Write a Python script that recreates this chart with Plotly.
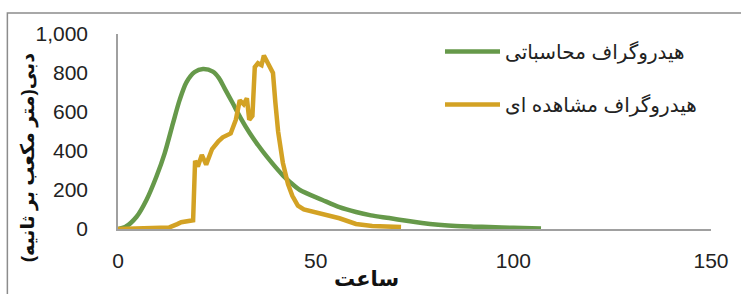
import plotly.graph_objects as go

# Computed hydrograph (green)
calc_t = [0, 1.8, 4.7, 7.2, 9.7, 11.8, 13.9, 15.6, 17.3, 19.4, 21.5, 24, 25.5, 27, 29, 31, 33.3, 35.5,
          37.6, 41.7, 43.4, 46, 51.7, 56, 60.2, 64, 68.6, 73, 76.9, 81, 85.5, 90, 93.8, 100, 107]
calc_q = [0, 10, 63, 149, 268, 388, 542, 662, 752, 805, 820, 807, 775, 720, 646, 570, 492, 428,
          372, 275, 243, 200, 149, 112, 87, 70, 56, 42, 31, 22, 15, 12, 10, 6, 3]

# Observed hydrograph (gold)
obs_t = [0, 8, 13, 15, 16, 19, 19.5, 20.2, 21.2, 22.3, 23.8, 25.4, 26.5, 28.5, 29.8, 30.8, 31.8, 32.6,
         33.2, 34.0, 34.6, 35.4, 36.3, 36.9, 37.6, 38.6, 39.2, 39.8, 40.5, 41.7, 43.0, 44.1, 45.5, 47.0,
         49.2, 51.7, 56.0, 60.2, 64.3, 71.6]
obs_q = [0, 3, 8, 25, 35, 45, 350, 320, 380, 330, 410, 450, 470, 490, 560, 660, 640, 670,
         560, 580, 830, 850, 840, 890, 860, 820, 800, 650, 500, 340, 230, 170, 120, 100,
         88, 80, 55, 26, 15, 10]

name_calc = "هیدروگراف محاسباتی"
name_obs = "هیدروگراف مشاهده ای"
x_title = "ساعت"
y_title = "دبی(متر مکعب بر ثانیه)"

x_ticks = [0, 50, 100, 150]
y_ticks = [0, 200, 400, 600, 800, 1000]
y_ticklabels = ["0", "200", "400", "600", "800", "1,000"]

FONT = "Liberation Sans, DejaVu Sans, sans-serif"

fig = go.Figure()
fig.add_trace(go.Scatter(x=calc_t, y=calc_q, mode="lines", name=name_calc, legendgroup="a",
                         line=dict(color="#66994a", width=4.5, shape="spline", smoothing=0.8)))
fig.add_trace(go.Scatter(x=obs_t, y=obs_q, mode="lines", name=name_obs, legendgroup="b",
                         line=dict(color="#d3a224", width=4.5)))

fig.update_layout(
    width=741, height=294,
    margin=dict(l=118, r=28, t=34, b=65),
    paper_bgcolor="white", plot_bgcolor="white",
    font=dict(family=FONT, size=21, color="#222222"),
    showlegend=True,
    legend=dict(x=0.543, y=1.01, xanchor="left", yanchor="top",
                bgcolor="rgba(0,0,0,0)", traceorder="grouped", tracegroupgap=24,
                itemwidth=55, font=dict(size=20, color="#222222")),
    xaxis=dict(range=[0, 150], tickvals=x_ticks, ticktext=[str(v) for v in x_ticks],
               showgrid=False, zeroline=False, showline=True, linecolor="#a0a0a0", linewidth=1.5,
               ticks="", ticklabelstandoff=12, tickfont=dict(size=21)),
    yaxis=dict(range=[0, 1000], tickvals=y_ticks, ticktext=y_ticklabels,
               showgrid=False, zeroline=False, showline=True, linecolor="#a0a0a0", linewidth=1.5,
               ticks="", ticklabelstandoff=24, tickfont=dict(size=21)),
    annotations=[
        dict(text="<b>" + x_title + "</b>", xref="paper", yref="paper",
             x=(367 - 118) / 595, y=(229 - 278) / 195, xanchor="center", yanchor="middle",
             showarrow=False, font=dict(size=21, color="#111111")),
        dict(text="<b>" + y_title + "</b>", xref="paper", yref="paper", textangle=-90,
             x=(28 - 118) / 595, y=(229 - 158) / 195, xanchor="center", yanchor="middle",
             showarrow=False, font=dict(size=19, color="#111111")),
    ],
    shapes=[
        dict(type="rect", xref="paper", yref="paper",
             x0=(7 - 118) / 595, x1=(760 - 118) / 595,
             y0=(229 - 320) / 195, y1=(229 - 13) / 195,
             line=dict(color="#8c8c8c", width=1.5), layer="below"),
    ],
)

fig.write_html("out.html",
               config={"displayModeBar": False},
               post_script="document.body.style.margin='0';document.body.style.padding='0';"
                           "document.body.style.overflow='hidden';")
